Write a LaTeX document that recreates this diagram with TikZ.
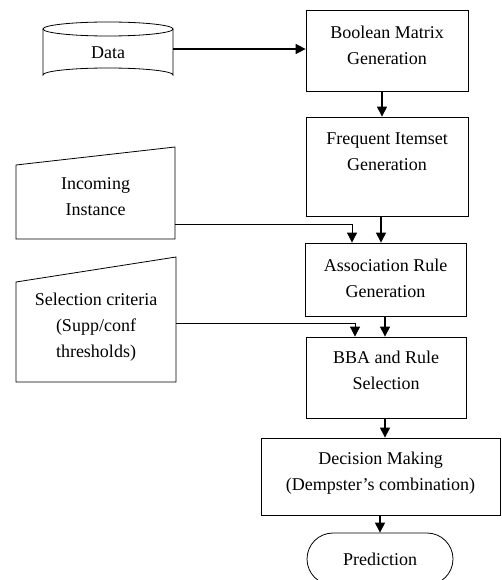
\documentclass[tikz,border=0pt]{standalone}
\usepackage{fontspec}
\setmainfont{Liberation Serif}
\usetikzlibrary{arrows.meta,shapes.misc}
\begin{document}
\begin{tikzpicture}[x=1pt,y=-1pt,
  box/.style={draw,line width=0.8pt,inner sep=0pt},
  txt/.style={align=center,font=\fontsize{18}{26}\selectfont,inner sep=0pt},
  arr/.style={-{Triangle[length=10pt,width=10pt]},line width=1.1pt},
  thin/.style={line width=0.8pt}]
\useasboundingbox (0,0) rectangle (502,580);
\clip (0,0) rectangle (502,580);
% Data cylinder
\draw[thin] (43,29) -- (43,75) arc[start angle=180,end angle=360,x radius=65,y radius=7] -- (173,29);
\draw[thin] (108,29) ellipse[x radius=65,y radius=7];
\node[txt] (data) at (108,53) {Data};
\coordinate (dataR) at (173,49);
% process boxes
\node[box,minimum width=162pt,minimum height=81pt] (bool) at (387,50.5) {};
\node[txt] at (387,45) {Boolean Matrix\\Generation};
\node[box,minimum width=162pt,minimum height=99pt] (freq) at (387,166.5) {};
\node[txt] at (387,152) {Frequent Itemset\\Generation};
\node[box,minimum width=161pt,minimum height=73pt] (assoc) at (385.5,279.5) {};
\node[txt] at (385.5,278) {Association Rule\\Generation};
\node[box,minimum width=160pt,minimum height=81pt] (bba) at (386,377.5) {};
\node[txt] at (386,370) {BBA and Rule\\Selection};
\node[box,minimum width=239pt,minimum height=77pt] (dec) at (380.5,476.5) {};
\node[txt] at (380.5,473) {Decision Making\\(Dempster’s combination)};
\node[draw,thin,rounded rectangle,minimum width=146pt,minimum height=52pt,inner sep=0pt] (pred) at (380,559) {};
\node[txt] at (380,559) {Prediction};
% manual inputs
\draw[thin] (16,165) -- (175,147) -- (175,239) -- (16,239) -- cycle;
\node[txt] (inc) at (95.5,197) {Incoming\\Instance};
\coordinate (incR) at (175,224);
\draw[thin] (16,282) -- (176,257) -- (176,382) -- (16,382) -- cycle;
\node[txt] (sel) at (96,327) {Selection criteria\\(Supp/conf\\thresholds)};
\coordinate (selR) at (176,323);
% connectors
\draw[arr,line width=1.6pt] (dataR) -- (bool.west |- dataR);
\draw[arr] (bool.south -| 382,0) -- (freq.north -| 382,0);
\draw[arr] (freq.south -| 381,0) -- (assoc.north -| 381,0);
\draw[arr,line width=0.8pt] (incR) -| (assoc.north -| 352,0);
\draw[arr] (assoc.south -| 385,0) -- (bba.north -| 385,0);
\draw[arr,line width=0.8pt] (selR) -| (bba.north -| 355,0);
\draw[arr] (bba.south -| 385,0) -- (dec.north -| 385,0);
\draw[arr] (dec.south -| 380,0) -- (pred.north -| 380,0);
\end{tikzpicture}
\end{document}
